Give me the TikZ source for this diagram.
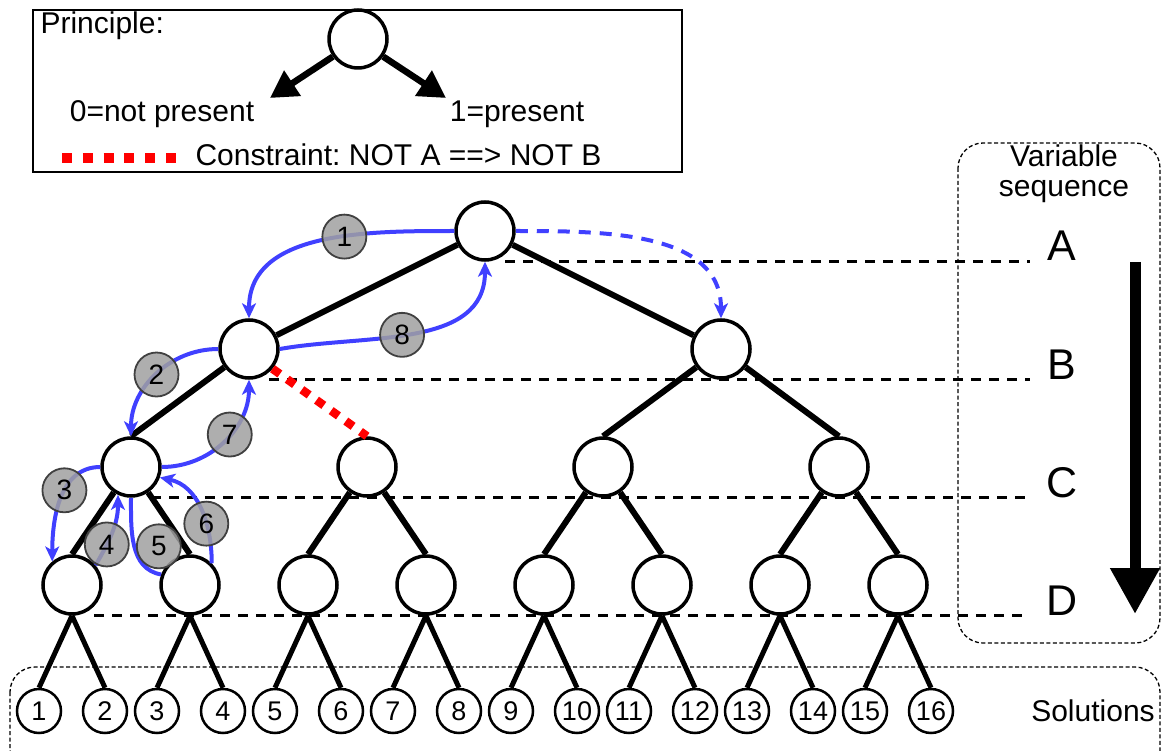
\documentclass[tikz,border=0pt]{standalone}
\usepackage{fontspec}
\setmainfont{Liberation Sans}
\usetikzlibrary{positioning, arrows.meta}
\definecolor{tracecol}{RGB}{64,64,255}
\definecolor{badgegray}{RGB}{160,160,160}
\frenchspacing

\begin{document}
\begin{tikzpicture}[x=1pt, y=-1pt, on grid,
    vnode/.style={circle, draw, line width=3.5pt, fill=white, minimum size=58pt, inner sep=0pt},
    leaf/.style={circle, draw, line width=2.5pt, fill=white, minimum size=44pt, inner sep=0pt, font=\fontsize{27}{27}\selectfont},
    branch/.style={line width=6pt},
    guide/.style={line width=3pt, dash pattern=on 10pt off 8pt, shorten >=14pt},
    trace/.style={draw=tracecol, line width=4pt, -{Stealth[length=15pt,width=14pt,inset=4pt]}},
    badge/.style={circle, draw=black!75, line width=1.8pt, fill=badgegray, fill opacity=0.85, text opacity=1, minimum size=44pt, inner sep=0pt, font=\fontsize{28}{28}\selectfont},
    letter/.style={anchor=base, font=\fontsize{43}{43}\selectfont},
    txt/.style={font=\fontsize{30}{30}\selectfont},
    constraint/.style={draw=red, line width=8.5pt, dash pattern=on 9pt off 9pt},
    box/.style={line width=1.3pt, dash pattern=on 4pt off 2.5pt, rounded corners=25pt},
    heavy/.style={line width=6.5pt, -{Triangle[length=27pt,width=29pt]}},
    seqarrow/.style={line width=11pt, -{Triangle[length=46pt,width=47pt]}}]
    \useasboundingbox (0,0) rectangle (1161,751);

    % legend
    \draw[line width=1.6pt] (33,10) rectangle (682,172);
    \node[txt, anchor=base west] (pr) at (37,34) {Principle:};
    \node[vnode] (lg) at (358,39) {};
    \coordinate (l0) at (270,98);
    \coordinate (l1) at (446,98);
    \draw[heavy] (lg.-145) -- (l0);
    \draw[heavy] (lg.-35) -- (l1);
    \node[txt, anchor=base] (zero) at (162,122) {0=not present};
    \node[txt, anchor=base] (one) at (517,122) {1=present};
    \coordinate (r0) at (62,158);
    \coordinate (r1) at (178,158);
    \draw[constraint, line width=10pt, dash pattern=on 10pt off 10.8pt] (r0) -- (r1);
    \node[txt, anchor=base west] (cn) at (192,166) {Constraint: NOT A ==> NOT B};

    % tree
    \node[vnode] (a) at (485,231) {};
    \node[vnode] (b0) [below left=118pt and 236pt of a] {};
    \node[vnode] (b1) [below right=118pt and 236pt of a] {};
    \node[vnode] (c0) [below left=118pt and 118pt of b0] {};
    \node[vnode] (c1) [below right=118pt and 118pt of b0] {};
    \node[vnode] (c2) [below left=118pt and 118pt of b1] {};
    \node[vnode] (c3) [below right=118pt and 118pt of b1] {};
    \node[vnode] (d0) [below left=118pt and 59pt of c0] {};
    \node[vnode] (d1) [below right=118pt and 59pt of c0] {};
    \node[vnode] (d2) [below left=118pt and 59pt of c1] {};
    \node[vnode] (d3) [below right=118pt and 59pt of c1] {};
    \node[vnode] (d4) [below left=118pt and 59pt of c2] {};
    \node[vnode] (d5) [below right=118pt and 59pt of c2] {};
    \node[vnode] (d6) [below left=118pt and 59pt of c3] {};
    \node[vnode] (d7) [below right=118pt and 59pt of c3] {};
    \node[leaf] (s1) [below left=126pt and 33pt of d0] {1};
    \node[leaf] (s2) [below right=126pt and 33pt of d0] {2};
    \node[leaf] (s3) [below left=126pt and 33pt of d1] {3};
    \node[leaf] (s4) [below right=126pt and 33pt of d1] {4};
    \node[leaf] (s5) [below left=126pt and 33pt of d2] {5};
    \node[leaf] (s6) [below right=126pt and 33pt of d2] {6};
    \node[leaf] (s7) [below left=126pt and 33pt of d3] {7};
    \node[leaf] (s8) [below right=126pt and 33pt of d3] {8};
    \node[leaf] (s9) [below left=126pt and 33pt of d4] {9};
    \node[leaf] (s10) [below right=126pt and 33pt of d4] {10};
    \node[leaf] (s11) [below left=126pt and 33pt of d5] {11};
    \node[leaf] (s12) [below right=126pt and 33pt of d5] {12};
    \node[leaf] (s13) [below left=126pt and 33pt of d6] {13};
    \node[leaf] (s14) [below right=126pt and 33pt of d6] {14};
    \node[leaf] (s15) [below left=126pt and 33pt of d7] {15};
    \node[leaf] (s16) [below right=126pt and 33pt of d7] {16};

    \draw[branch] (a) -- (b0);
    \draw[branch] (a) -- (b1);
    \draw[branch] (b0) -- (c0.north);
    \draw[branch] (b1) -- (c2.north);
    \draw[branch] (b1) -- (c3.north);
    \draw[branch] (c0) -- (d0.north);
    \draw[branch] (c0) -- (d1.north);
    \draw[branch] (c1) -- (d2.north);
    \draw[branch] (c1) -- (d3.north);
    \draw[branch] (c2) -- (d4.north);
    \draw[branch] (c2) -- (d5.north);
    \draw[branch] (c3) -- (d6.north);
    \draw[branch] (c3) -- (d7.north);
    \draw[branch, line width=5pt] (d0.south) -- (s1.north);
    \draw[branch, line width=5pt] (d0.south) -- (s2.north);
    \draw[branch, line width=5pt] (d1.south) -- (s3.north);
    \draw[branch, line width=5pt] (d1.south) -- (s4.north);
    \draw[branch, line width=5pt] (d2.south) -- (s5.north);
    \draw[branch, line width=5pt] (d2.south) -- (s6.north);
    \draw[branch, line width=5pt] (d3.south) -- (s7.north);
    \draw[branch, line width=5pt] (d3.south) -- (s8.north);
    \draw[branch, line width=5pt] (d4.south) -- (s9.north);
    \draw[branch, line width=5pt] (d4.south) -- (s10.north);
    \draw[branch, line width=5pt] (d5.south) -- (s11.north);
    \draw[branch, line width=5pt] (d5.south) -- (s12.north);
    \draw[branch, line width=5pt] (d6.south) -- (s13.north);
    \draw[branch, line width=5pt] (d6.south) -- (s14.north);
    \draw[branch, line width=5pt] (d7.south) -- (s15.north);
    \draw[branch, line width=5pt] (d7.south) -- (s16.north);

    % variable sequence
    \draw[box] (958,143) rectangle (1160,643);
    \node[txt, align=center] (vs) at (1064,174) {Variable\\sequence};
    \node[letter] (la) at (1062,261) {A};
    \node[letter] (lb) at (1062,379) {B};
    \node[letter] (lc) at (1062,497) {C};
    \node[letter] (ld) at (1062,615) {D};
    \draw[guide] ([xshift=20pt]a.south) -- (a.south -| la.west);
    \draw[guide] ([xshift=20pt]b0.south) -- (b0.south -| lb.west);
    \draw[guide] ([xshift=20pt]c0.south) -- (c0.south -| lc.west);
    \draw[guide] ([xshift=22pt]d0.south) -- (d0.south -| ld.west);
    \coordinate (qtop) at (1135,262);
    \coordinate (qbot) at (1135,614);
    \draw[seqarrow] (qtop) -- (qbot);

    % solutions
    \draw[box] (10,667) rectangle (1160,775);
    \node[txt] (sol) at (1093,711) {Solutions};

    % constraint and traversal
    \draw[constraint] (b0.-40) -- (c1.north);
    \draw[trace, dash pattern=on 12pt off 9pt] (a.east) to[out=0, in=90] (b1.north);
    \draw[trace] (a.west) to[out=180, in=90] node[badge, pos=0.4] {1} (b0.north);
    \draw[trace] (b0.west) to[out=180, in=90] node[badge, pos=0.5] {2} (c0.north);
    \draw[trace] (c0.west) to[out=180, in=90] node[badge, pos=0.42] {3} (d0.130);
    \draw[trace] (d0.40) to[out=60, in=-90] node[badge, pos=0.3] {4} (c0.245);
    \draw[trace, arrows=-] (c0.south) to[out=-90, in=170] node[badge, pos=0.6, xshift=22pt, yshift=8pt] {5} (d1.160);
    \draw[trace] (d1.45) to[out=90, in=-12] node[badge, pos=0.35] {6} (c0.-20);
    \draw[trace] (c0.east) to[out=0, in=-90] node[badge, pos=0.57] {7} (b0.south);
    \draw[trace] (b0.east) to[out=10, in=-90] node[badge, pos=0.45] {8} (a.south);
\end{tikzpicture}
\end{document}
